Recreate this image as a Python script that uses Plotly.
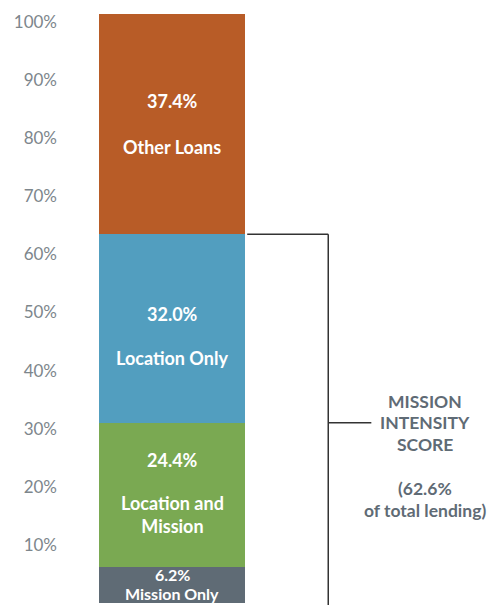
import plotly.graph_objects as go

categories = ["Mission Only", "Location and Mission", "Location Only", "Other Loans"]
values = [6.2, 24.4, 32.0, 37.4]
colors = ["#5F6B75", "#7AA952", "#529EBF", "#B85C27"]
value_labels = ["6.2%", "24.4%", "32.0%", "37.4%"]
name_labels = ["Mission Only", "Location and<br>Mission", "Location Only", "Other Loans"]
tick_vals = [0, 10, 20, 30, 40, 50, 60, 70, 80, 90, 100]
tick_text = ["0%", "10%", "20%", "30%", "40%", "50%", "60%", "70%", "80%", "90%", "100%"]
score_lines = ["MISSION", "INTENSITY", "SCORE", "(62.6%", "of total lending)"]

FONT = "Lato"
LBL = dict(family=FONT, size=18, color="white", weight="bold")
LBL_SMALL = dict(family=FONT, size=16, color="white", weight="bold")
fig = go.Figure()
for cat, v, c in zip(categories, values, colors):
    fig.add_trace(go.Bar(x=[0.5], y=[v], width=[1], name=cat, marker=dict(color=c, line=dict(width=0)),
                         hoverinfo="skip"))
# invisible trace to carry the tick-label axis
fig.add_trace(go.Scatter(x=[0.5, 0.5], y=[tick_vals[0], tick_vals[-1]], yaxis="y2", mode="markers",
                         marker=dict(opacity=0), hoverinfo="skip", showlegend=False))

# label offsets (pixels) relative to segment mid: (value-label shift, name-label shift)
shifts = [(-8, -27), (35, -20), (15, -29), (23, -23)]
cum = 0
for i, (v, vl, nl, (s1, s2)) in enumerate(zip(values, value_labels, name_labels, shifts)):
    mid = cum + v / 2
    if i == 0:
        top = cum + v
        fig.add_annotation(x=0.5, y=top, text=vl, showarrow=False, yshift=s1, font=LBL_SMALL)
        fig.add_annotation(x=0.5, y=top, text=nl, showarrow=False, yshift=s2, font=LBL_SMALL)
    else:
        fig.add_annotation(x=0.5, y=mid, text=vl, showarrow=False, yshift=s1, font=LBL)
        fig.add_annotation(x=0.5, y=mid, text=nl, showarrow=False, yshift=s2, font=LBL)
    cum += v

score = values[0] + values[1] + values[2]
line_c = "#333333"
# bracket
fig.add_shape(type="line", x0=1.015, x1=1.57, y0=score, y1=score, line=dict(color=line_c, width=1.5))
fig.add_shape(type="line", x0=1.57, x1=1.57, y0=score, y1=-5, line=dict(color=line_c, width=1.5))
mid_br = values[0] + values[1]
fig.add_shape(type="line", x0=1.57, x1=1.865, y0=mid_br, y1=mid_br, line=dict(color=line_c, width=1.5))

score_shifts = [21, 0, -22, -66, -88]
for t, s in zip(score_lines, score_shifts):
    fig.add_annotation(x=2.233, y=mid_br, text=t, showarrow=False, yshift=s,
                       font=dict(family=FONT, size=17.5, color="#5F6B75", weight="bold"))

fig.update_layout(
    barmode="stack",
    width=488, height=605,
    margin=dict(l=62, r=0, t=12, b=0, autoexpand=False),
    paper_bgcolor="white", plot_bgcolor="white",
    showlegend=False,
    xaxis=dict(range=[-0.2534, 2.664], showgrid=False, zeroline=False, showticklabels=False,
               showline=False, fixedrange=True, automargin=False),
    yaxis=dict(range=[-0.3, 100.3], showgrid=False, showticklabels=False,
               zeroline=False, showline=False, automargin=False),
    yaxis2=dict(range=[-0.35, 101.72], overlaying="y", side="left", tickvals=tick_vals,
                ticktext=tick_text, showgrid=False, zeroline=False, showline=False, automargin=False,
                tickfont=dict(family=FONT, size=17, color="#7D868C"), ticklabelstandoff=4),
)
fig.write_html("out.html", config={"displayModeBar": False},
               post_script="document.body.style.margin='0';document.body.style.overflow='hidden';")
